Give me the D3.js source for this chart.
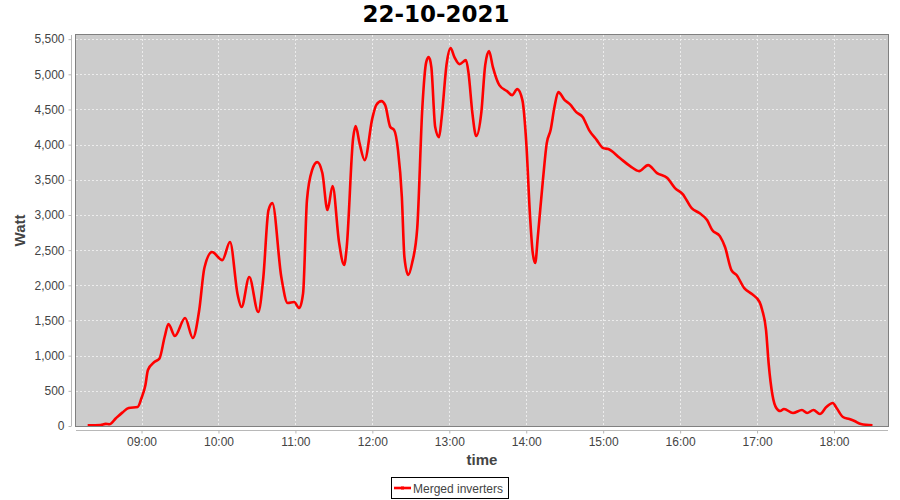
<!DOCTYPE html>
<html>
<head>
<meta charset="utf-8">
<script src="https://cdn.jsdelivr.net/npm/d3@7"></script>
<style>
  html, body { margin: 0; padding: 0; background: #ffffff; }
  svg { display: block; }
</style>
</head>
<body>
<svg id="chart" width="900" height="500"></svg>
<script>
// ---- data ----
const chartTitle = "22-10-2021";
const seriesName = "Merged inverters";
const xAxisLabel = "time";
const yAxisLabel = "Watt";

const times = [
  "08:18","08:28","08:32","08:35","08:40","08:45","08:50","08:57","09:00","09:03",
  "09:05","09:10","09:14","09:18","09:21","09:26","09:34","09:40","09:45","09:49",
  "09:55","10:03","10:09","10:15","10:18","10:24","10:31","10:35","10:39","10:42",
  "10:49","10:54","10:59","11:03","11:06","11:09","11:13","11:17","11:21","11:25",
  "11:29","11:34","11:38","11:40","11:45","11:47","11:50","11:54","12:00","12:03",
  "12:07","12:10","12:14","12:17","12:20","12:23","12:25","12:28","12:31","12:35",
  "12:39","12:42","12:44","12:46","12:49","12:52","12:54","12:58","13:01","13:04",
  "13:08","13:13","13:15","13:18","13:21","13:25","13:28","13:31","13:34","13:39",
  "13:45","13:49","13:53","13:57","14:00","14:03","14:05","14:07","14:09","14:13",
  "14:16","14:19","14:22","14:25","14:30","14:34","14:39","14:44","14:49","14:55",
  "15:00","15:04","15:13","15:21","15:28","15:35","15:42","15:50","15:56","16:02",
  "16:09","16:15","16:21","16:25","16:31","16:35","16:40","16:44","16:50","16:56",
  "17:02","17:04","17:07","17:09","17:12","17:15","17:18","17:21","17:28","17:35",
  "17:39","17:44","17:49","17:54","17:59","18:02","18:07","18:12","18:16","18:21",
  "18:30"
];
const watts = [
  10,15,30,25,110,190,256,270,398,580,
  796,910,960,1265,1450,1280,1535,1251,1649,2246,
  2473,2359,2615,1862,1691,2118,1620,2118,3070,3169,
  2118,1748,1762,1677,1890,3212,3638,3752,3596,3070,
  3411,2615,2288,2544,4093,4264,4022,3780,4377,4562,
  4619,4562,4250,4207,3923,3255,2402,2146,2317,2814,
  4534,5173,5244,5102,4250,4107,4377,5159,5372,5244,
  5145,5202,5017,4449,4122,4463,5131,5330,5102,4847,
  4761,4704,4790,4633,4036,2970,2473,2317,2686,3496,
  4022,4207,4534,4747,4633,4576,4463,4392,4207,4065,
  3951,3937,3809,3695,3624,3709,3596,3525,3383,3297,
  3098,3027,2928,2786,2700,2544,2217,2146,1961,1876,
  1762,1649,1364,895,441,256,213,242,185,227,
  185,227,171,270,327,256,128,99,71,28,
  10
];
const xTickLabels = ["09:00","10:00","11:00","12:00","13:00","14:00","15:00","16:00","17:00","18:00"];
const yTickValues = [0,500,1000,1500,2000,2500,3000,3500,4000,4500,5000,5500];
const xDomainLabels = ["08:08.9","18:42.1"];
const yDomain = [0, 5559];

// ---- helpers ----
function toMin(s) {
  const p = s.split(":");
  return (+p[0]) * 60 + parseFloat(p[1]);
}
const points = times.map((t, i) => ({ x: toMin(t), y: watts[i] }));

// ---- layout ----
const plot = { left: 76, right: 888, top: 35, bottom: 426 };
const svg = d3.select("#chart");
const font = "'Liberation Sans', Arial, sans-serif";

const x = d3.scaleLinear()
  .domain(xDomainLabels.map(toMin))
  .range([plot.left, plot.right]);
const y = d3.scaleLinear()
  .domain(yDomain)
  .range([plot.bottom, plot.top]);

// background
svg.append("rect").attr("x", 0).attr("y", 0).attr("width", 900).attr("height", 500).attr("fill", "#ffffff");

// plot area
svg.append("rect")
  .attr("x", plot.left).attr("y", plot.top)
  .attr("width", plot.right - plot.left).attr("height", plot.bottom - plot.top)
  .attr("fill", "#cccccc");

// gridlines
const grid = svg.append("g").attr("stroke", "#f4f4f4").attr("stroke-width", 0.8).attr("stroke-dasharray", "2,2");
grid.selectAll("line.h").data(yTickValues).enter().append("line")
  .attr("x1", plot.left).attr("x2", plot.right)
  .attr("y1", d => Math.round(y(d)) + 0.5).attr("y2", d => Math.round(y(d)) + 0.5);
grid.selectAll("line.v").data(xTickLabels).enter().append("line")
  .attr("y1", plot.top).attr("y2", plot.bottom)
  .attr("x1", d => Math.round(x(toMin(d))) + 0.5).attr("x2", d => Math.round(x(toMin(d))) + 0.5);

// line
const line = d3.line()
  .x(d => x(d.x))
  .y(d => y(d.y))
  .curve(d3.curveMonotoneX);
svg.append("path")
  .datum(points)
  .attr("fill", "none")
  .attr("stroke", "#ff0000")
  .attr("stroke-width", 2.6)
  .attr("stroke-linejoin", "round")
  .attr("d", line);

// plot outline
svg.append("rect")
  .attr("x", plot.left - 0.5).attr("y", plot.top - 0.5)
  .attr("width", plot.right - plot.left + 1).attr("height", plot.bottom - plot.top + 1)
  .attr("fill", "none").attr("stroke", "#808080").attr("stroke-width", 1);

// y axis
const yAxis = d3.axisLeft(y)
  .tickValues(yTickValues)
  .tickFormat(d3.format(","))
  .tickSizeInner(3).tickSizeOuter(0).tickPadding(4);
const gy = svg.append("g").attr("transform", `translate(${plot.left - 4.5},0)`).call(yAxis);
gy.select(".domain").attr("stroke", "#b8b8b8").attr("d", `M0,${plot.top}V${plot.bottom}`);
gy.selectAll(".tick line").attr("stroke", "#b8b8b8");
gy.selectAll(".tick text").attr("fill", "#444444").attr("font-family", font).attr("font-size", 12);

// x axis
const xAxis = d3.axisBottom(x)
  .tickValues(xTickLabels.map(toMin))
  .tickFormat((d, i) => xTickLabels[i])
  .tickSizeInner(3).tickSizeOuter(0).tickPadding(4);
const gx = svg.append("g").attr("transform", `translate(0,${plot.bottom + 4.5})`).call(xAxis);
gx.select(".domain").attr("stroke", "#b8b8b8").attr("d", `M${plot.left},0H${plot.right}`);
gx.selectAll(".tick line").attr("stroke", "#b8b8b8");
gx.selectAll(".tick text").attr("fill", "#444444").attr("font-family", font).attr("font-size", 12);

// title
svg.append("text")
  .attr("x", 436).attr("y", 22)
  .attr("text-anchor", "middle")
  .attr("font-family", "'DejaVu Sans', sans-serif")
  .attr("font-weight", "bold")
  .attr("font-size", 23)
  .attr("fill", "#000000")
  .text(chartTitle);

// axis labels
svg.append("text")
  .attr("x", (plot.left + plot.right) / 2).attr("y", 465)
  .attr("text-anchor", "middle")
  .attr("font-family", font).attr("font-weight", "bold").attr("font-size", 15)
  .attr("fill", "#444444")
  .text(xAxisLabel);
svg.append("text")
  .attr("transform", `translate(25,${(plot.top + plot.bottom) / 2}) rotate(-90)`)
  .attr("text-anchor", "middle")
  .attr("font-family", font).attr("font-weight", "bold").attr("font-size", 15)
  .attr("fill", "#444444")
  .text(yAxisLabel);

// legend
const lg = svg.append("g");
lg.append("rect")
  .attr("x", 391.5).attr("y", 477.5).attr("width", 117).attr("height", 21)
  .attr("fill", "#ffffff").attr("stroke", "#000000").attr("stroke-width", 1);
lg.append("line")
  .attr("x1", 394).attr("x2", 411).attr("y1", 488).attr("y2", 488)
  .attr("stroke", "#ff0000").attr("stroke-width", 2.6);
lg.append("rect").attr("x", 401).attr("y", 486.5).attr("width", 3).attr("height", 3).attr("fill", "#ff0000");
lg.append("text")
  .attr("x", 413).attr("y", 492.5)
  .attr("font-family", font).attr("font-size", 12)
  .attr("fill", "#444444")
  .text(seriesName);
</script>
</body>
</html>
